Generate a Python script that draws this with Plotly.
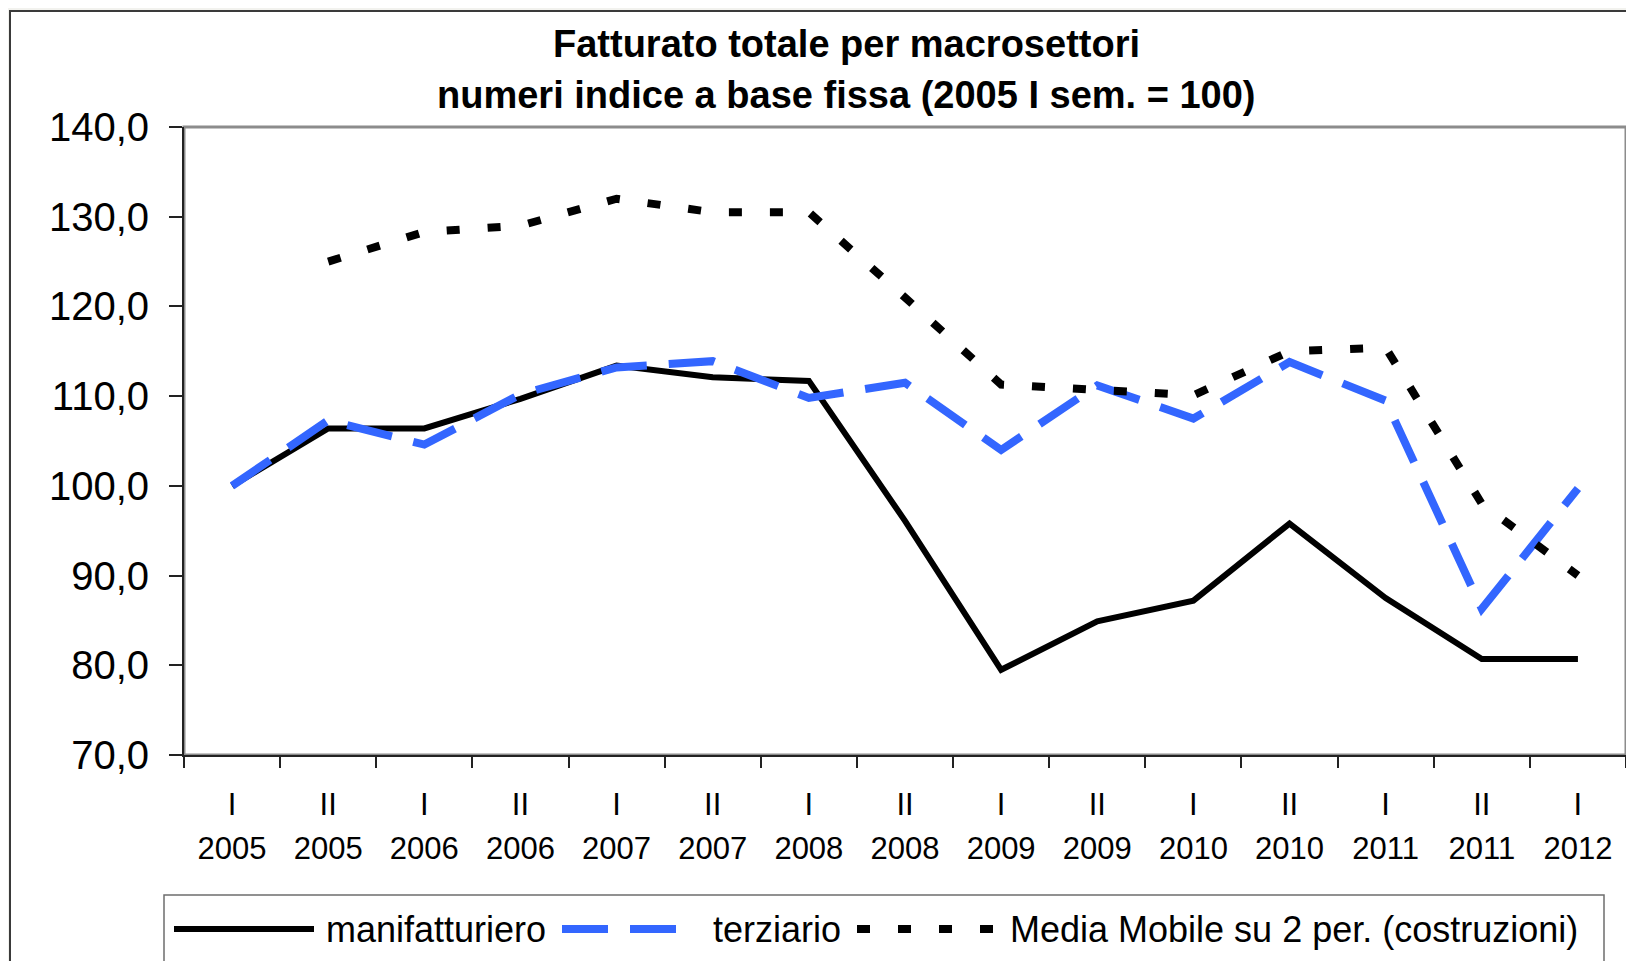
import plotly.graph_objects as go

# ---- data ----
halves = ["I", "II", "I", "II", "I", "II", "I", "II", "I", "II", "I", "II", "I", "II", "I"]
years = ["2005", "2005", "2006", "2006", "2007", "2007", "2008", "2008",
         "2009", "2009", "2010", "2010", "2011", "2011", "2012"]
categories = [f"{h} {y}" for h, y in zip(halves, years)]

manifatturiero = [100.0, 106.4, 106.4, 109.7, 113.4, 112.1, 111.7, 96.1,
                  79.5, 84.9, 87.2, 95.8, 87.5, 80.7, 80.7]
terziario = [100.0, 107.3, 104.6, 110.2, 113.2, 113.9, 109.8, 111.5,
             104.0, 111.2, 107.5, 113.8, 109.5, 86.3, 99.7]
media_mobile = [None, 125.0, 128.3, 129.0, 132.0, 130.5, 130.5, 121.0,
                111.3, 110.7, 110.1, 115.0, 115.4, 98.0, 90.0]

series_names = ["manifatturiero", "terziario", "Media Mobile su 2 per. (costruzioni)"]
title_lines = ["Fatturato totale per macrosettori",
               "numeri indice a base fissa (2005 I sem. = 100)"]

# ---- layout geometry (screen pixels) ----
SW, SH = 1634, 961
O = 8                       # default page body margin
FW, FH = SW - O, SH - O
L, R, T, B = 184, 1626, 127, 755
FONT = "Liberation Sans, Arial, sans-serif"

def px(x):
    return (x - L) / (R - L)

def py(y):
    return (B - y) / (B - T)

BLUE = "#3366ff"
styles = [
    dict(color="black", width=6, dash="solid"),
    dict(color=BLUE, width=8, dash="46px,22px"),
    dict(color="black", width=8, dash="13px,28px"),
]

fig = go.Figure()
fig.add_trace(go.Scatter(x=categories, y=manifatturiero, mode="lines",
                         name=series_names[0], line=styles[0],
                         xaxis="x", yaxis="y", showlegend=False))
fig.add_trace(go.Scatter(x=categories, y=terziario, mode="lines",
                         name=series_names[1], line=styles[1],
                         xaxis="x2", yaxis="y", showlegend=False))
fig.add_trace(go.Scatter(x=categories, y=media_mobile, mode="lines",
                         name=series_names[2], line=styles[2],
                         xaxis="x2", yaxis="y", showlegend=False,
                         connectgaps=False))

shapes = [
    # outer chart frame
    dict(type="rect", xref="paper", yref="paper", layer="below",
         x0=px(10), x1=px(1680), y0=py(1000), y1=py(11),
         line=dict(color="#3a3a3a", width=2), fillcolor="white"),
    # plot area border
    dict(type="rect", xref="paper", yref="paper", layer="below",
         x0=0, x1=1, y0=0, y1=1,
         line=dict(color="#8c8c8c", width=3), fillcolor="rgba(0,0,0,0)"),
    # legend box
    dict(type="rect", xref="paper", yref="paper", layer="below",
         x0=px(164), x1=px(1604), y0=py(1000), y1=py(895),
         line=dict(color="#6e6e6e", width=1.5), fillcolor="white"),
]

# legend samples
leg_y = py(929)
samples = [(174, 314), (562, 684), (857, 995)]
text_x = [324, 711, 1008]
annotations = []
for (x0, x1), tx, st, nm in zip(samples, text_x, styles, series_names):
    shapes.append(dict(type="line", xref="paper", yref="paper",
                       x0=px(x0), x1=px(x1), y0=leg_y, y1=leg_y,
                       line=dict(color=st["color"], width=st["width"], dash=st["dash"])))
    annotations.append(dict(xref="paper", yref="paper", x=px(tx), y=leg_y,
                            xanchor="left", yanchor="middle", showarrow=False,
                            text=nm, font=dict(family=FONT, size=36, color="black")))

# title
for line_text, yc in zip(title_lines, [44, 95]):
    annotations.append(dict(xref="paper", yref="paper", x=px(846), y=py(yc),
                            xanchor="center", yanchor="middle", showarrow=False,
                            text=f"<b>{line_text}</b>",
                            font=dict(family=FONT, size=38, color="black")))

fig.update_layout(
    width=FW, height=FH,
    margin=dict(l=L - O, r=SW - R, t=T - O, b=SH - B, pad=0),
    paper_bgcolor="#f2f2ee",
    plot_bgcolor="white",
    separators=",.",
    showlegend=False,
    shapes=shapes,
    annotations=annotations,
    xaxis=dict(type="category", categoryorder="array", categoryarray=categories,
               range=[-0.5, len(categories) - 0.5],
               tickmode="array", tickvals=categories, ticktext=halves,
               tickson="boundaries", ticks="outside", ticklen=11, tickwidth=1.5,
               tickcolor="#222", showline=True, linecolor="#222", linewidth=2,
               showgrid=False, zeroline=False,
               tickfont=dict(family=FONT, size=31, color="black"),
               ticklabelstandoff=21),
    xaxis2=dict(type="category", categoryorder="array", categoryarray=categories,
                overlaying="x", side="bottom", anchor="y",
                range=[-0.5, len(categories) - 0.5],
                tickmode="array", tickvals=categories, ticktext=years,
                ticks="", showline=False, showgrid=False, zeroline=False,
                tickfont=dict(family=FONT, size=31, color="black"),
                ticklabelstandoff=72),
    yaxis=dict(range=[70, 140], dtick=10, tick0=70, tickformat=".1f",
               ticks="outside", ticklen=13, tickwidth=1.5, tickcolor="#222",
               showline=True, linecolor="#222", linewidth=2,
               showgrid=False, zeroline=False,
               tickfont=dict(family=FONT, size=40, color="black"),
               ticklabelstandoff=12),
)

fig.write_html("out.html")
